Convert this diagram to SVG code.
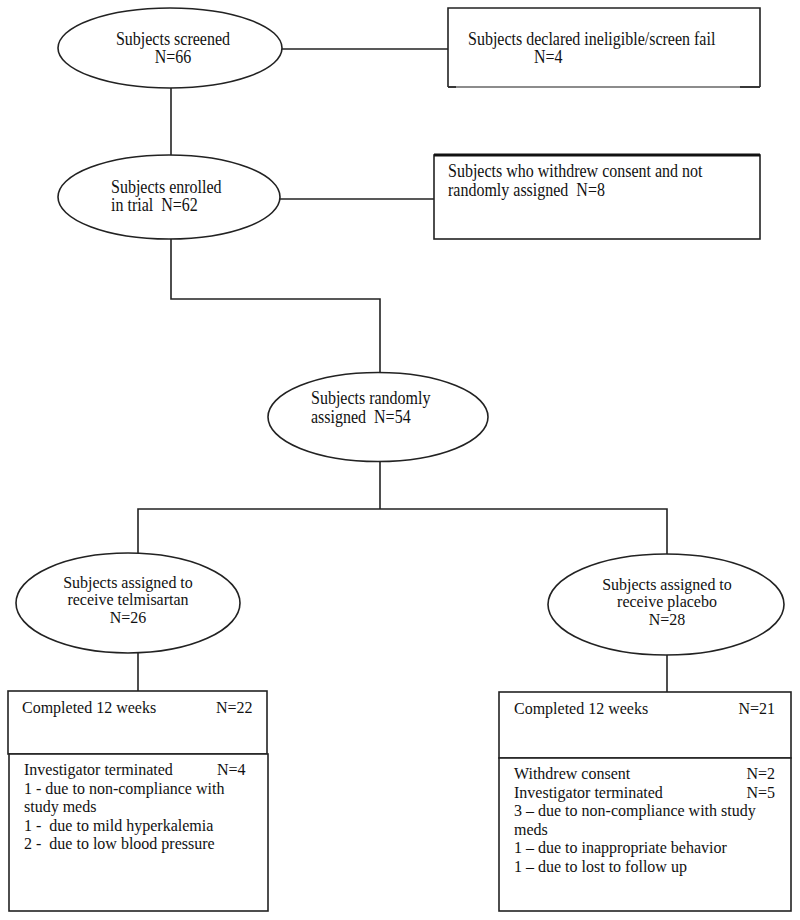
<svg xmlns="http://www.w3.org/2000/svg" width="800" height="920" viewBox="0 0 800 920">
<style>
  .shape { fill: #ffffff; stroke: #222222; stroke-width: 1.6; }
  .conn { fill: none; stroke: #222222; stroke-width: 1.6; }
  text { font-family: "Liberation Serif", "Times New Roman", serif; font-size: 16px; fill: #111111; white-space: pre; }
  .mid { text-anchor: middle; }
  .end { text-anchor: end; }
</style>
<rect x="0" y="0" width="800" height="920" fill="#ffffff"/>
<g id="connectors">
  <line class="conn" x1="281" y1="49" x2="448" y2="49"/>
  <line class="conn" x1="171" y1="87" x2="171" y2="155"/>
  <line class="conn" x1="280" y1="199" x2="434" y2="199"/>
  <polyline class="conn" points="171,239 171,299 380,299 380,373"/>
  <line class="conn" x1="380" y1="462" x2="380" y2="509"/>
  <polyline class="conn" points="138,553 138,509 667,509 667,555"/>
  <line class="conn" x1="138" y1="653" x2="138" y2="691"/>
  <line class="conn" x1="667" y1="655" x2="667" y2="692"/>
</g>
<g id="screened">
  <ellipse class="shape" cx="170" cy="48" rx="112" ry="40"/>
  <text class="mid" transform="matrix(1 0 0 1.15 173 45)">Subjects screened</text>
  <text class="mid" transform="matrix(1 0 0 1.15 173 63)">N=66</text>
</g>
<g id="ineligible">
  <rect x="448" y="8" width="312" height="79" fill="#ffffff" stroke="none"/>
  <polyline class="conn" points="448,87 448,8 760,8 760,87"/>
  <line x1="448" y1="87" x2="760" y2="87" stroke="#666666" stroke-width="1.4"/>
  <line x1="448" y1="87" x2="456" y2="87" stroke="#222222" stroke-width="1.6"/>
  <line x1="740" y1="87" x2="760" y2="87" stroke="#222222" stroke-width="1.6"/>
  <text transform="matrix(1 0 0 1.15 468 45)">Subjects declared ineligible/screen fail</text>
  <text transform="matrix(1 0 0 1.15 534 63)">N=4</text>
</g>
<g id="enrolled">
  <ellipse class="shape" cx="169" cy="197" rx="111" ry="42"/>
  <text transform="matrix(1 0 0 1.15 111 193)">Subjects enrolled</text>
  <text transform="matrix(1 0 0 1.15 111 211)">in trial  N=62</text>
</g>
<g id="withdrew">
  <rect class="shape" x="434" y="155" width="326" height="84"/>
  <line x1="434" y1="155" x2="760" y2="155" stroke="#111111" stroke-width="2.8"/>
  <text transform="matrix(1 0 0 1.15 448 177)">Subjects who withdrew consent and not</text>
  <text transform="matrix(1 0 0 1.15 448 196)">randomly assigned  N=8</text>
</g>
<g id="randomized">
  <ellipse class="shape" cx="378" cy="417" rx="110" ry="44.5"/>
  <text transform="matrix(1 0 0 1.15 311 404)">Subjects randomly</text>
  <text transform="matrix(1 0 0 1.15 311 423)">assigned  N=54</text>
</g>
<g id="telmisartan">
  <ellipse class="shape" cx="128" cy="603" rx="112" ry="50"/>
  <text class="mid" transform="matrix(1 0 0 1.1 128 588)">Subjects assigned to</text>
  <text class="mid" transform="matrix(1 0 0 1.1 128 605)">receive telmisartan</text>
  <text class="mid" transform="matrix(1 0 0 1.1 128 623)">N=26</text>
</g>
<g id="placebo">
  <ellipse class="shape" cx="666" cy="604.5" rx="118" ry="50.5"/>
  <text class="mid" transform="matrix(1 0 0 1.1 667 590)">Subjects assigned to</text>
  <text class="mid" transform="matrix(1 0 0 1.1 667 607)">receive placebo</text>
  <text class="mid" transform="matrix(1 0 0 1.1 667 625)">N=28</text>
</g>
<g id="telmisartan-completed">
  <rect class="shape" x="8" y="691" width="259" height="63"/>
  <text x="22" y="713">Completed 12 weeks</text>
  <text x="216" y="713">N=22</text>
</g>
<g id="telmisartan-terminated">
  <rect class="shape" x="9" y="754" width="259" height="157"/>
  <text x="24" y="775">Investigator terminated</text>
  <text x="217" y="775">N=4</text>
  <text x="24" y="794">1 - due to non-compliance with</text>
  <text x="24" y="812">study meds</text>
  <text x="24" y="831">1 -  due to mild hyperkalemia</text>
  <text x="24" y="849">2 -  due to low blood pressure</text>
</g>
<g id="placebo-completed">
  <rect class="shape" x="499" y="692" width="292" height="66"/>
  <text x="514" y="714">Completed 12 weeks</text>
  <text class="end" x="775" y="714">N=21</text>
</g>
<g id="placebo-withdrawn">
  <rect class="shape" x="499" y="758" width="292" height="153"/>
  <text x="514" y="779">Withdrew consent</text>
  <text class="end" x="775" y="779">N=2</text>
  <text x="514" y="798">Investigator terminated</text>
  <text class="end" x="775" y="798">N=5</text>
  <text x="514" y="816">3 – due to non-compliance with study</text>
  <text x="514" y="835">meds</text>
  <text x="514" y="853">1 – due to inappropriate behavior</text>
  <text x="514" y="872">1 – due to lost to follow up</text>
</g>
</svg>
